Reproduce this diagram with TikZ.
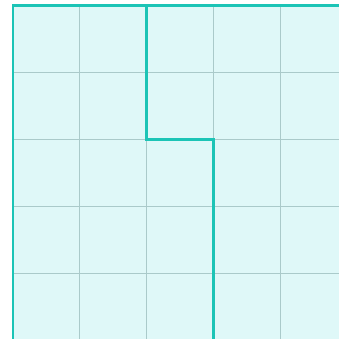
\documentclass[tikz,border=0pt]{standalone}
\usepackage{xcolor}
\usepackage{tikz}
\definecolor{cellfill}{HTML}{DFF8F8}
\definecolor{gridgray}{HTML}{AACACA}
\definecolor{edgeteal}{HTML}{1CC4B6}

\begin{document}
\begin{tikzpicture}[
  x=1pt, y=-1pt,
  gridline/.style={draw=gridgray, line width=1.2pt},
  cutline/.style={draw=edgeteal, line width=2.6pt, line cap=rect, line join=miter}
]

\def\W{338}
\def\H{339}
\def\cell{67}

\useasboundingbox (0,0) rectangle (\W,\H);

% board
\fill[cellfill] (12.5,5.5) rectangle (\W+5,\H+5);

\foreach \i in {1,...,4}{
  \pgfmathsetmacro\gx{12.5+\i*\cell}
  \draw[gridline] (\gx,5.5) -- (\gx,\H+5);
  \draw[gridline] (12.5,\gx-7) -- (\W+5,\gx-7);
}

% outer edges and the cut
\draw[cutline] (13,\H+5) -- (13,5.5) -- (\W+5,5.5);
\draw[cutline] (146.5,5.5) -- (146.5,139.5) -- (213.5,139.5) -- (213.5,\H+5);

\end{tikzpicture}
\end{document}
